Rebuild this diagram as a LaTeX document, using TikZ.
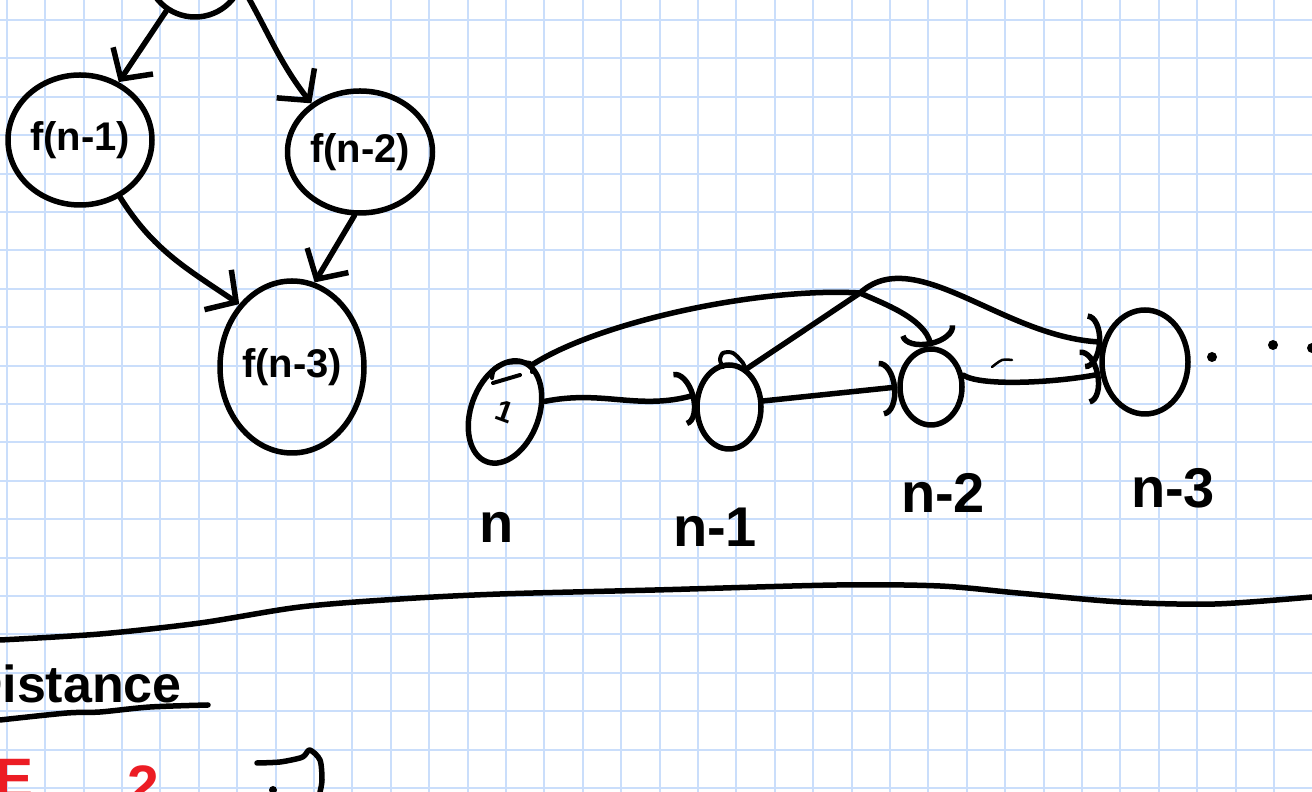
\documentclass[tikz,border=0pt]{standalone}
\usepackage{fontspec}
\setmainfont{Liberation Sans}
\usetikzlibrary{arrows.meta,shapes.geometric}
\definecolor{gridblue}{RGB}{202,222,251}
\definecolor{inkred}{RGB}{236,28,36}
\tikzset{
    ink/.style={line width=5.5pt, line cap=round, line join=round},
    blob/.style={ellipse, draw, ink, inner sep=0pt},
    barb/.style={ink, -{Straight Barb[length=22pt,width=48pt]}},
    arcbarb/.style={ink, -{Arc Barb[length=16pt,width=56pt]}},
    gridline/.style={gridblue, line width=2pt},
    hand/.style={font=\fontsize{40}{40}\selectfont\bfseries},
    tag/.style={font=\fontsize{56}{56}\selectfont\bfseries},
}
\begin{document}
\begin{tikzpicture}[x=1pt, y=1pt]
    \useasboundingbox (0,0) rectangle (1312,792);
    \clip (0,0) rectangle (1312,792);
    \fill[white] (0,0) rectangle (1312,792);
    \foreach \gx in {0,...,33} \draw[gridline] ({6.7+38.4*\gx},0) -- ++(0,792);
    \foreach \gy in {0,...,20} \draw[gridline] (0,{772-38.4*\gy}) -- ++(1312,0);

    \node[blob, minimum width=96pt, minimum height=94pt] (fn) at (195,822) {};
    \node[blob, hand, minimum width=144pt, minimum height=130pt] (f1) at (80,652) {f(n-1)};
    \node[blob, hand, minimum width=145pt, minimum height=122pt] (f2) at (360,640) {f(n-2)};
    \node[blob, hand, minimum width=144pt, minimum height=172pt] (f3) at (292,425) {f(n-3)};
    \draw[barb] (fn.-125) -- (f1);
    \draw[barb] (fn.-20) to[out=-60, in=128] (f2.135);
    \draw[barb] (f1.-55) to[out=-58, in=146] (f3.130);
    \draw[barb] (f2.-95) -- (f3.75);

    \node[blob, rotate=-20, font=\fontsize{30}{30}\selectfont\bfseries, minimum width=68pt, minimum height=106pt] (cn) at (505,380) {1};
    \node[blob, minimum width=64pt, minimum height=84pt] (cn1) at (729,385) {};
    \node[blob, minimum width=62pt, minimum height=76pt] (cn2) at (931,405) {};
    \node[blob, minimum width=86pt, minimum height=104pt] (cn3) at (1145,430) {};
    \coordinate (cross) at (860,499);
    \draw[arcbarb] (cn.35) .. controls +(59,12) and +(-58,-16) .. (cn1.160);
    \draw[arcbarb] (cn.80) .. controls +(67,43) and +(-100,6) .. (cross)
        .. controls +(22,-10) and +(-6,28) .. (cn2.north);
    \draw[arcbarb] (cn1.10) -- (cn2.west);
    \draw[arcbarb] (cn1.65) -- (cross) .. controls +(55,50) and +(-100,5) .. (cn3.155);
    \draw[arcbarb] (cn2.20) .. controls +(20,-12) and +(-40,-8) .. (cn3.195);
    \draw[ink, line width=4pt] plot[smooth] coordinates {(492,414) (495,424) (507,429) (530,429) (532,420)};
    \draw[ink, line width=4pt] (493,409) -- (520,417);
    \draw[ink, line width=4pt] plot[smooth] coordinates {(723,425) (720,432) (723,439) (733,439) (743,429) (745,424)};
    \draw[ink, line width=2.5pt] plot[smooth] coordinates {(992,425) (1002,432) (1012,432)};
    \foreach \dx/\dy in {1212/435, 1273/447, 1312/444} \fill (\dx,\dy) circle (5pt);

    \node[tag] (tn)  at (497,265)  {n};
    \node[tag] (tn1) at (715,265)  {n-1};
    \node[tag] (tn2) at (943,299)  {n-2};
    \node[tag] (tn3) at (1173,304) {n-3};

    \draw[ink] plot[smooth] coordinates {(0,152) (100,158) (200,169) (300,185) (400,193) (500,198) (655,202) (837,207) (940,206) (1018,199) (1121,190) (1215,188) (1312,195)};
    \node[font=\fontsize{52}{52}\selectfont\bfseries, anchor=base east, inner sep=0pt] (dist) at (182,89) {Distance};
    \draw[ink] plot[smooth] coordinates {(0,72) (67,79) (100,80) (150,85) (208,87)};
    \node[inkred, font=\fontsize{57}{57}\selectfont\bfseries, anchor=north west, inner sep=0pt] (redE) at (-5,33) {E};
    \node[inkred, font=\fontsize{57}{57}\selectfont\bfseries, anchor=north west, inner sep=0pt] (red2) at (127,26) {2};
    \draw[ink] plot[smooth] coordinates {(257,29) (280,30) (300,34) (305,37) (310,42) (320,32) (322,12) (320,0)};
    \fill (273,2) circle (4pt);
\end{tikzpicture}
\end{document}
